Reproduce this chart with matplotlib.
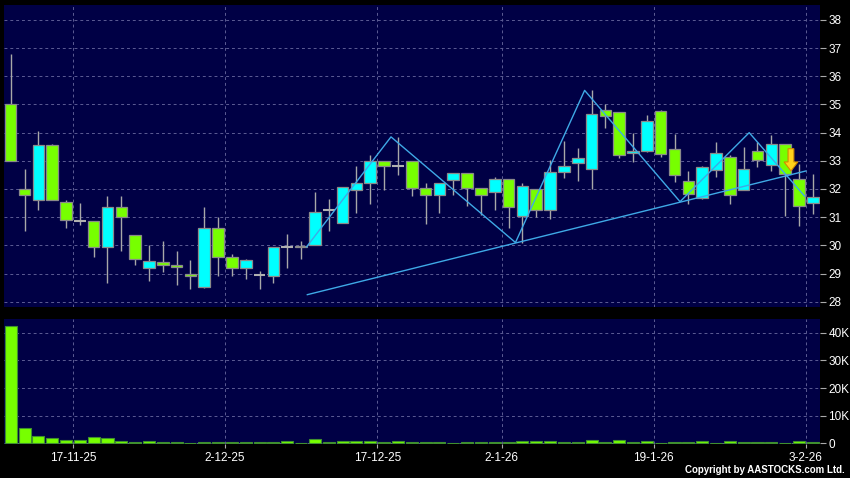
import numpy as np
import matplotlib
matplotlib.use("Agg")
import matplotlib.pyplot as plt
from matplotlib.patches import Rectangle, FancyArrow

# Daily OHLC (index 0 = 10-11-25 ... index 58 = 3-2-26)
opens = [35.0, 32.0, 31.6, 33.55, 31.55, 30.88, 30.85, 29.95, 31.35, 30.35,
         29.2, 29.4, 29.3, 29.0, 28.52, 30.62, 29.6, 29.18, 28.95, 28.9,
         29.95, 29.95, 30.0, 31.25, 30.8, 31.97, 32.22, 33.0, 32.8, 33.0,
         32.05, 31.77, 32.31, 32.56, 32.02, 31.88, 32.35, 31.04, 31.99, 31.24,
         32.6, 32.92, 32.71, 34.8, 34.74, 33.28, 33.35, 34.77, 33.41, 32.3,
         31.69, 32.66, 33.12, 31.95, 33.35, 32.84, 33.58, 32.34, 31.5]
highs = [36.8, 32.7, 34.05, 33.6, 31.6, 31.5, 30.87, 31.75, 31.75, 30.35,
         30.0, 30.15, 29.8, 29.48, 31.35, 31.0, 29.7, 29.5, 29.08, 29.95,
         30.4, 30.15, 31.9, 31.63, 32.06, 32.8, 33.2, 33.0, 33.85, 33.0,
         32.2, 32.2, 32.56, 32.56, 32.02, 32.44, 32.35, 32.2, 32.0, 33.04,
         33.7, 33.45, 35.5, 35.0, 34.75, 34.0, 34.63, 34.8, 33.95, 32.64,
         32.8, 33.67, 33.2, 33.49, 33.67, 33.92, 33.58, 32.87, 32.55]
lows = [33.0, 30.5, 31.25, 31.6, 30.6, 30.73, 29.6, 28.65, 29.8, 29.3,
        28.75, 29.05, 28.6, 28.45, 28.5, 28.9, 28.9, 28.8, 28.45, 28.65,
        29.2, 29.5, 30.0, 30.5, 30.8, 31.15, 31.45, 31.95, 32.5, 31.75,
        30.75, 31.15, 31.77, 31.4, 31.06, 31.27, 30.6, 30.08, 31.0, 30.92,
        32.38, 32.3, 32.0, 34.15, 33.09, 32.96, 33.3, 33.15, 32.26, 31.47,
        31.63, 32.43, 31.47, 31.95, 32.78, 32.64, 31.03, 30.69, 31.12]
closes = [33.0, 31.8, 33.55, 31.6, 30.9, 30.88, 29.95, 31.35, 31.0, 29.5,
          29.45, 29.3, 29.22, 28.93, 30.62, 29.6, 29.2, 29.47, 28.95, 29.95,
          29.95, 29.98, 31.2, 31.25, 32.06, 32.22, 33.0, 32.8, 32.8, 32.03,
          31.77, 32.2, 32.56, 32.04, 31.77, 32.35, 31.35, 32.1, 31.24, 32.6,
          32.81, 33.1, 34.67, 34.58, 33.2, 33.35, 34.43, 33.23, 32.48, 31.83,
          32.79, 33.27, 31.77, 32.7, 33.02, 33.58, 32.52, 31.38, 31.7]
# volume in thousands
volumes = [42.6, 5.5, 2.6, 1.9, 1.2, 1.1, 2.3, 2.0, 0.8, 0.5,
           0.7, 0.4, 0.4, 0.25, 0.5, 0.4, 0.4, 0.5, 0.6, 0.5,
           0.8, 0.2, 1.4, 0.4, 0.7, 0.8, 0.8, 0.6, 0.8, 0.4,
           0.5, 0.4, 0.15, 0.4, 0.4, 0.4, 0.5, 0.8, 1.0, 1.0,
           0.5, 0.5, 1.3, 0.5, 1.3, 0.5, 1.0, 0.25, 0.4, 0.4,
           0.8, 0.15, 0.7, 0.5, 0.5, 0.5, 0.15, 0.7, 0.4]

date_ticks = [4.5, 15.5, 26.5, 35.5, 46.5, 57.5]
date_labels = ['17-11-25', '2-12-25', '17-12-25', '2-1-26', '19-1-26', '3-2-26']
price_ticks = list(range(28, 39))
vol_ticks = [0, 10, 20, 30, 40]
vol_labels = ['0', '10K', '20K', '30K', '40K']

# trend lines drawn on the chart (index, price)
zigzag_x = [21.4, 27.5, 36.5, 41.5, 48.4, 53.4, 57.4]
zigzag_y = [29.95, 33.85, 30.1, 35.5, 31.55, 34.0, 31.75]
support_x = [21.45, 57.5]
support_y = [28.25, 32.64]
arrow_x, arrow_top, arrow_tip = 56.42, 33.43, 32.64

BG = '#000000'
PANEL = '#000045'
GRID = '#5c5c94'
UP = '#00ffff'
DOWN = '#77ff00'
LINE = '#3fa9e6'

plt.rcParams['font.family'] = ['Liberation Sans', 'DejaVu Sans']

fig = plt.figure(figsize=(8.5, 4.78), dpi=100, facecolor=BG)
ax = fig.add_axes([3.5 / 850, 1 - 306.5 / 478, 816.5 / 850, 301.5 / 478])
axv = fig.add_axes([3.5 / 850, 1 - 444 / 478, 816.5 / 850, 125.5 / 478])

xlim = (-0.52, 58.52)
w = 0.84
for a in (ax, axv):
    a.set_facecolor(PANEL)
    a.set_xlim(*xlim)
    for s in a.spines.values():
        s.set_visible(False)
    a.set_xticks(date_ticks)
    a.grid(True, color=GRID, linestyle=(0, (3, 3)), linewidth=0.7)
    a.set_axisbelow(True)
    a.yaxis.tick_right()
    a.tick_params(axis='y', colors='#aaaaaa', labelcolor='white', length=4,
                  width=0.8, labelsize=8.5, pad=2)

ax.set_ylim(27.83, 38.53)
ax.set_yticks(price_ticks)
ax.tick_params(axis='x', length=0, labelbottom=False)

# candles
for i in range(len(opens)):
    o, h, l, c = opens[i], highs[i], lows[i], closes[i]
    ax.vlines(i, l, h, color='#a8a8a8', linewidth=1.0, zorder=2)
    if abs(c - o) < 0.03:
        ax.hlines(o, i - w / 2, i + w / 2, color='#b0b0b0', linewidth=1.5, zorder=3)
        continue
    col = UP if c > o else DOWN
    ax.add_patch(Rectangle((i - w / 2, min(o, c)), w, abs(c - o), facecolor=col,
                           edgecolor='#8a8a8a', linewidth=0.9, zorder=3))

ax.plot(zigzag_x, zigzag_y, color=LINE, linewidth=1.0, zorder=4)
ax.plot(support_x, support_y, color=LINE, linewidth=1.0, zorder=4)
ax.add_patch(FancyArrow(arrow_x, arrow_top, 0, arrow_tip - arrow_top, width=0.42,
                        head_width=1.0, head_length=0.32, length_includes_head=True,
                        facecolor='#ffd21a', edgecolor='#d08a00', linewidth=0.8, zorder=5))

# volume
axv.bar(range(len(volumes)), volumes, width=0.87, color=DOWN, edgecolor='#3f8f2f',
        linewidth=0.8, zorder=3)
axv.set_ylim(-0.25, 45.2)
axv.set_yticks(vol_ticks)
axv.set_yticklabels(vol_labels)
axv.set_xticklabels(date_labels)
axv.tick_params(axis='x', colors='#aaaaaa', labelcolor='white', length=3, width=0.8,
                labelsize=8.5, pad=3)

fig.text(0.994, 0.006, 'Copyright by AASTOCKS.com Ltd.', color='white', fontsize=7,
         ha='right', va='bottom', fontweight='bold')

fig.savefig('out.png', dpi=100, facecolor=BG)
